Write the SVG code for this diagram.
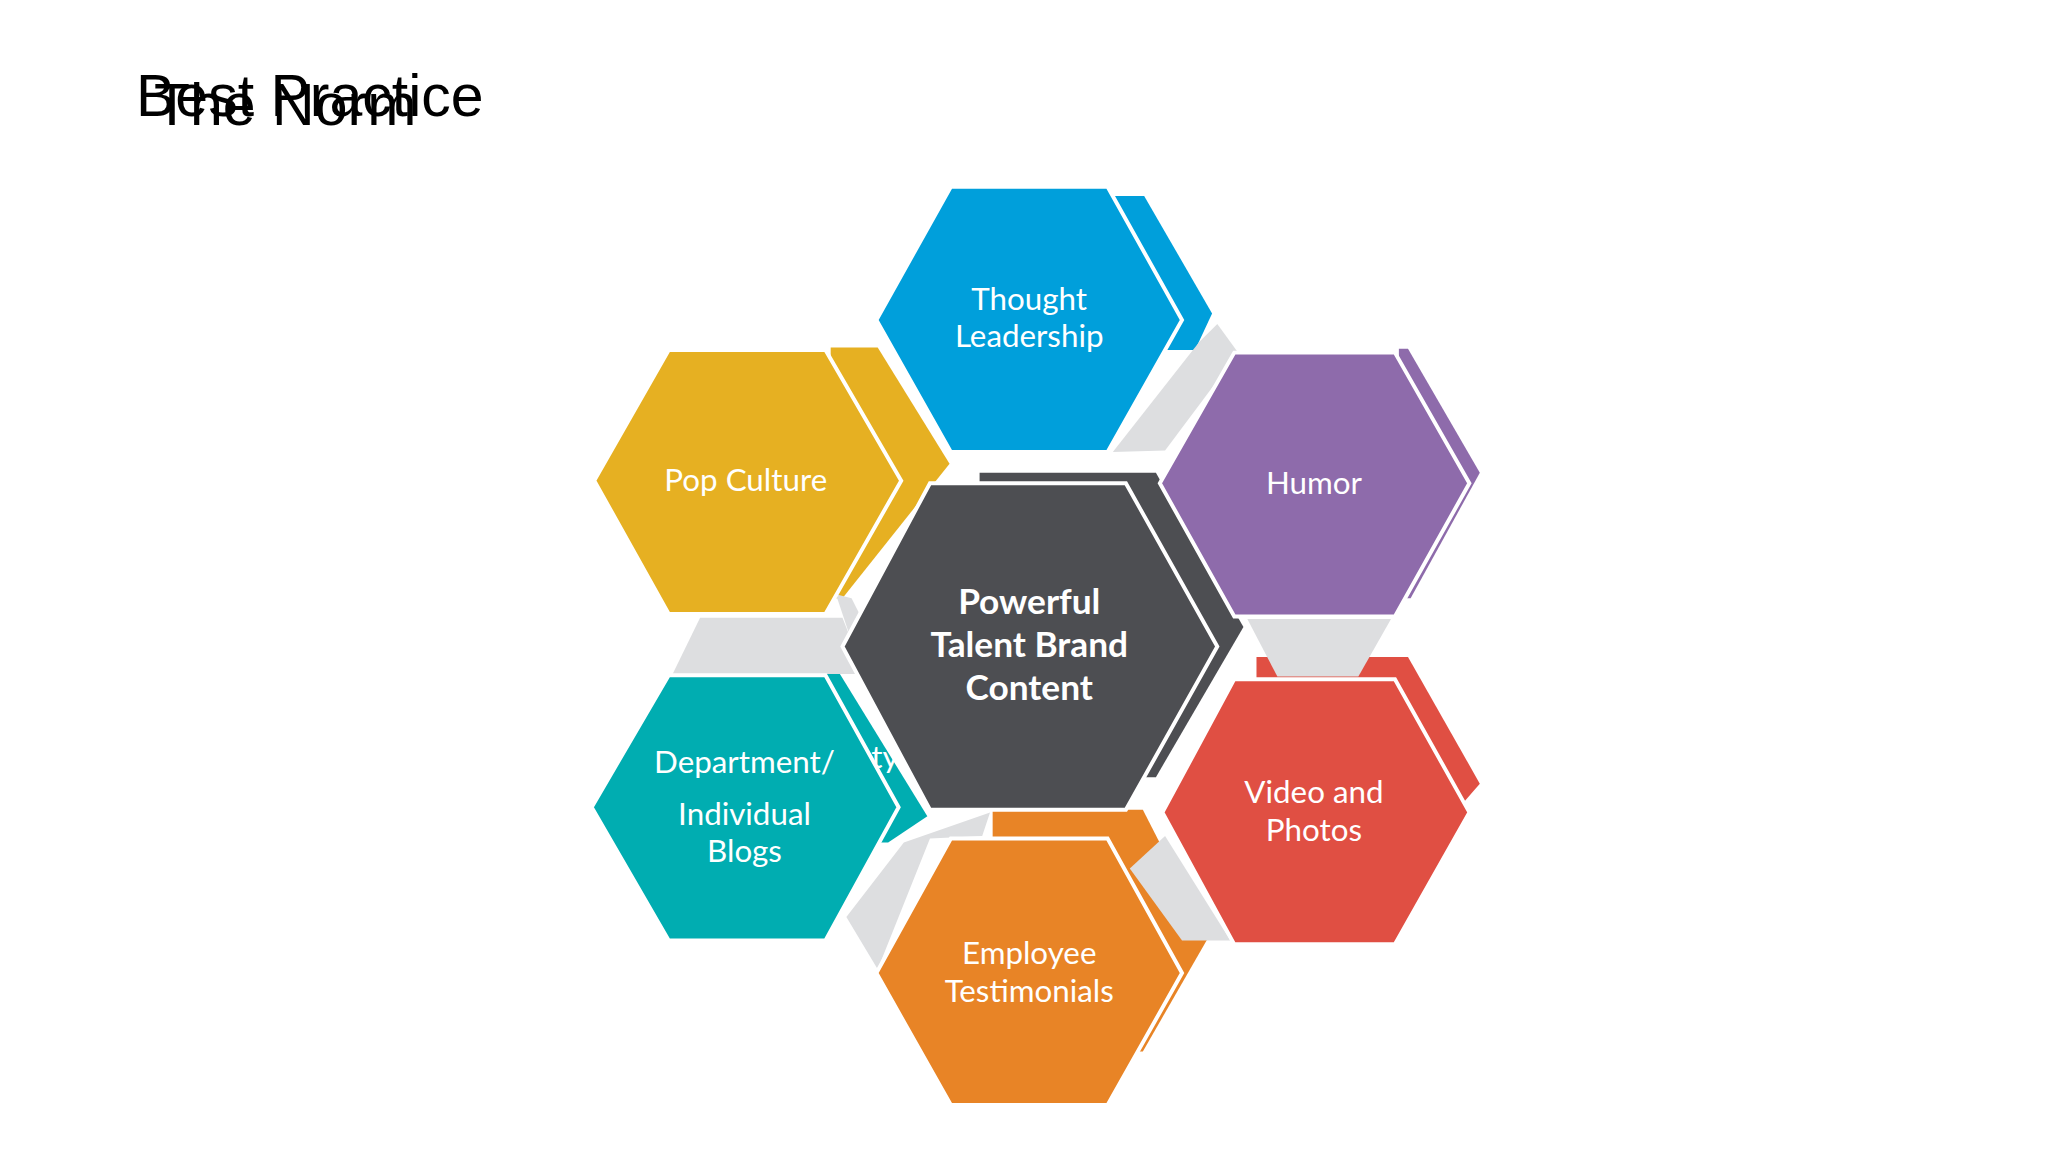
<svg xmlns="http://www.w3.org/2000/svg" width="2048" height="1152" viewBox="0 0 2048 1152">
<style>
.t{font-family:"Liberation Sans",Arial,sans-serif;font-size:59px;fill:#000}
.l{font-family:Lato,"Open Sans",sans-serif;font-size:24px;fill:#fff;text-anchor:middle}
.b{font-family:Lato,"Open Sans",sans-serif;font-size:27px;font-weight:bold;fill:#fff;text-anchor:middle}
.h{stroke:#fff;stroke-width:3;stroke-linejoin:miter}
.g{fill:#dddee0}
</style>
<rect width="2048" height="1152" fill="#fff"/>
<text class="t" x="136" y="116">Best Practice</text>
<text class="t" x="154" y="125">The Norm</text>
<g transform="scale(1.30612)">
<g id="shadows">
<polygon fill="#009fdb" points="800,150 876,150 928,240 915,268 800,268"/>
<polygon fill="#e6b022" points="636,266 672,266 727,355 645,458 636,458"/>
<polygon fill="#8e6bab" points="1071,267 1078,267 1133,362 1080,458 1071,458"/>
<polygon fill="#00adb1" points="560,498 632,498 710,625 680,645 560,645"/>
<polygon fill="#e04f43" points="962,503 1078,503 1133,600 1120,615 962,615"/>
<polygon fill="#e88426" points="760,620 875,620 925,718 875,805 800,805 760,700"/>
<polygon fill="#4d4e52" points="750,362 885,362 952,480 885,595 800,595 750,400"/>
</g>
<g id="connectors">
<polygon class="g" points="918,262 932,248 948,270 892,345 852,346"/>
<polygon class="g" points="536,473 645,473 662,516 515,516"/>
<polygon class="g" points="640,455 652,458 668,490 655,500"/>
<polygon class="g" points="955,474 1065,474 1040,518 978,518"/>
<polygon class="g" points="865,665 892,640 942,720 905,720"/>
<polygon class="g" points="692,645 758,622 752,640 712,642 672,742 648,702"/>
</g>
<text class="l" x="667" y="588" style="text-anchor:start">ty</text>
<g id="thought"><polygon class="h" fill="#009fdb" points="728,143 848,143 905,245 848,346 728,346 671,245"/>
<text class="l" x="788" y="237">Thought</text><text class="l" x="788" y="266">Leadership</text></g>
<g id="pop"><polygon class="h" fill="#e6b022" points="512,268 632,268 690,368 632,470 512,470 455,368"/>
<text class="l" x="571" y="376">Pop Culture</text></g>
<g id="humor"><polygon class="h" fill="#8e6bab" points="945,270 1068,270 1125,370 1068,472 945,472 888,370"/>
<text class="l" x="1006" y="378">Humor</text></g>
<g id="dept"><polygon class="h" fill="#00adb1" points="512,517 632,517 688,618 632,720 512,720 453,618"/>
<text class="l" x="570" y="592">Department/</text><text class="l" x="570" y="632">Individual</text><text class="l" x="570" y="660">Blogs</text></g>
<g id="video"><polygon class="h" fill="#e04f43" points="945,520 1068,520 1125,622 1068,723 945,723 890,622"/>
<text class="l" x="1006" y="615">Video and</text><text class="l" x="1006" y="644">Photos</text></g>
<g id="employee"><polygon class="h" fill="#e88426" points="728,642 848,642 905,745 848,846 728,846 671,745"/>
<text class="l" x="788" y="738">Employee</text><text class="l" x="788" y="767">Testimonials</text></g>
<g id="center"><polygon class="h" fill="#4d4e52" points="712,370 862,370 932,495 862,620 712,620 645,495"/>
<text class="b" x="788" y="470">Powerful</text><text class="b" x="788" y="503">Talent Brand</text><text class="b" x="788" y="536">Content</text></g>
</g>
</svg>
